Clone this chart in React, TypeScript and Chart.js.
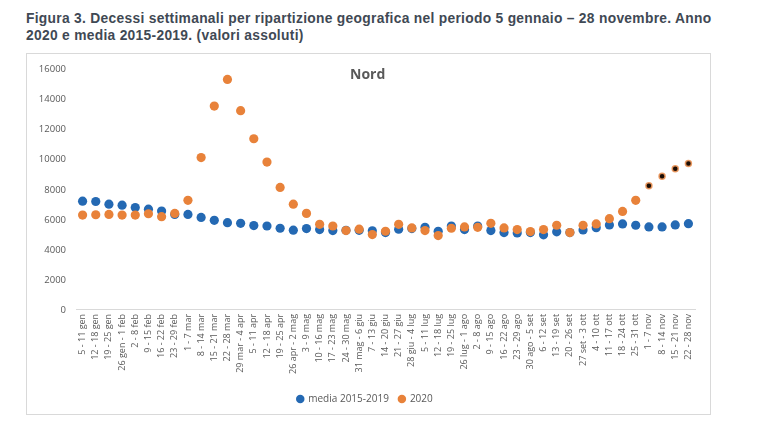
import React, { useEffect, useRef } from "react";
import { Chart, registerables } from "chart.js";

Chart.register(...registerables);

const weeks: string[] = [
  "5 - 11 gen", "12 - 18 gen", "19 - 25 gen", "26 gen - 1 feb", "2 - 8 feb", "9 - 15 feb",
  "16 - 22 feb", "23 - 29 feb", "1 - 7 mar", "8 - 14 mar", "15 - 21 mar", "22 - 28 mar",
  "29 mar - 4 apr", "5 - 11 apr", "12 - 18 apr", "19 - 25 apr", "26 apr - 2 mag", "3 - 9 mag",
  "10 - 16 mag", "17 - 23 mag", "24 - 30 mag", "31 mag - 6 giu", "7 - 13 giu", "14 - 20 giu",
  "21 - 27 giu", "28 giu - 4 lug", "5 - 11 lug", "12 - 18 lug", "19 - 25 lug", "26 lug - 1 ago",
  "2 - 8 ago", "9 - 15 ago", "16 - 22 ago", "23 - 29 ago", "30 ago - 5 set", "6 - 12 set",
  "13 - 19 set", "20 - 26 set", "27 set - 3 ott", "4 - 10 ott", "11 - 17 ott", "18 - 24 ott",
  "25 - 31 ott", "1 - 7 nov", "8 - 14 nov", "15 - 21 nov", "22 - 28 nov",
];

const media20152019: number[] = [
  7240, 7220, 7040, 6975, 6820, 6710, 6580, 6360, 6360, 6160, 5965, 5810,
  5770, 5615, 5590, 5440, 5310, 5420, 5350, 5285, 5300, 5300, 5265, 5150,
  5375, 5420, 5500, 5240, 5590, 5350, 5590, 5285, 5150, 5130, 5150, 5000,
  5200, 5150, 5330, 5480, 5660, 5725, 5640, 5525, 5525, 5660, 5745,
];

const anno2020: number[] = [
  6320, 6340, 6360, 6320, 6320, 6405, 6210, 6425, 7300, 10150, 13575, 15350,
  13270, 11400, 9850, 8160, 7040, 6430, 5700, 5590, 5285, 5375, 5020, 5240,
  5700, 5460, 5285, 4950, 5440, 5525, 5500, 5770, 5460, 5350, 5220, 5350,
  5640, 5150, 5640, 5725, 6075, 6560, 7300, 8270, 8900, 9410, 9760,
];

const yTicks: number[] = [0, 2000, 4000, 6000, 8000, 10000, 12000, 14000, 16000];

// weeks whose 2020 figure is marked with a dark centre
const provisionalFrom = 43;

const BLUE = "#2469b3";
const ORANGE = "#e8823a";
const FONT = "'Open Sans', 'Noto Sans', sans-serif";

export default function App() {
  const ref = useRef<HTMLCanvasElement | null>(null);

  useEffect(() => {
    if (!ref.current) return;
    const orangeBg = anno2020.map((_, i) => (i >= provisionalFrom ? "#1a0d05" : ORANGE));
    const orangeRadius = anno2020.map((_, i) => (i >= provisionalFrom ? 3 : 4.6));
    const orangeBorderW = anno2020.map((_, i) => (i >= provisionalFrom ? 1.5 : 0));
    const chart = new Chart(ref.current, {
      type: "line",
      data: {
        labels: weeks,
        datasets: [
          {
            label: "media 2015-2019",
            data: media20152019,
            showLine: false,
            pointRadius: 4.6,
            pointBackgroundColor: BLUE,
            pointBorderWidth: 0,
            borderColor: BLUE,
            backgroundColor: BLUE,
            order: 2,
          },
          {
            label: "2020",
            data: anno2020,
            showLine: false,
            pointRadius: orangeRadius,
            pointBackgroundColor: orangeBg,
            pointBorderColor: "rgba(236,150,90,0.9)",
            pointBorderWidth: orangeBorderW,
            borderColor: ORANGE,
            backgroundColor: ORANGE,
            order: 1,
          },
        ],
      },
      options: {
        animation: false,
        responsive: false,
        maintainAspectRatio: false,
        layout: { padding: { left: 8, right: 15, top: 6, bottom: 0 } },
        plugins: {
          legend: {
            position: "bottom",
            labels: {
              usePointStyle: true,
              pointStyle: "circle",
              boxWidth: 6,
              boxHeight: 6,
              padding: 10,
              color: "#595959",
              font: { family: FONT, size: 10 },
              generateLabels: (c: any) =>
                c.data.datasets.map((d: any, i: number) => ({
                  text: d.label,
                  fillStyle: i === 0 ? BLUE : ORANGE,
                  strokeStyle: i === 0 ? BLUE : ORANGE,
                  lineWidth: 0,
                  pointStyle: "circle",
                  datasetIndex: i,
                  fontColor: "#595959",
                })),
            },
          },
          tooltip: { enabled: false },
          title: { display: false },
        },
        scales: {
          x: {
            offset: true,
            grid: { display: false, drawTicks: false },
            border: { display: true, color: "#d9d9d9" },
            afterFit: (s: any) => {
              s.height += 6;
            },
            ticks: {
              autoSkip: false,
              maxRotation: 90,
              minRotation: 90,
              padding: 4,
              color: "#595959",
              font: { family: FONT, size: 9 },
            },
          },
          y: {
            min: yTicks[0],
            max: yTicks[yTicks.length - 1],
            afterFit: (s: any) => {
              s.width = 41;
            },
            afterBuildTicks: (s: any) => {
              s.ticks = yTicks.map((v) => ({ value: v }));
            },
            grid: { display: false, drawTicks: false },
            border: { display: false },
            ticks: {
              padding: 10,
              color: "#595959",
              font: { family: FONT, size: 9.5 },
              callback: (v: any) => String(v),
            },
          },
        },
      },
    });
    return () => chart.destroy();
  }, []);

  return (
    <div style={{ position: "absolute", left: 0, top: 0, width: 767, height: 423, background: "#fff" }}>
      <div
        style={{
          position: "absolute",
          left: 26,
          top: 10,
          fontFamily: "'Liberation Sans', Arial, sans-serif",
          fontWeight: "bold",
          fontSize: 13.8,
          letterSpacing: 0.3,
          lineHeight: "17px",
          color: "#3f4954",
          whiteSpace: "nowrap",
        }}
      >
        Figura 3. Decessi settimanali per ripartizione geografica nel periodo 5 gennaio – 28 novembre. Anno
        <br />
        2020 e media 2015-2019. (valori assoluti)
      </div>
      <div
        style={{
          position: "absolute",
          left: 26,
          top: 53,
          width: 685,
          height: 362,
          border: "1px solid #d9d9d9",
          boxSizing: "border-box",
        }}
      >
        <canvas ref={ref} width={683} height={360} style={{ width: 683, height: 360, display: "block" }} />
        <div
          style={{
            position: "absolute",
            left: 323,
            top: 10,
            fontFamily: FONT,
            fontWeight: "bold",
            fontSize: 14,
            color: "#595959",
          }}
        >
          Nord
        </div>
      </div>
    </div>
  );
}
